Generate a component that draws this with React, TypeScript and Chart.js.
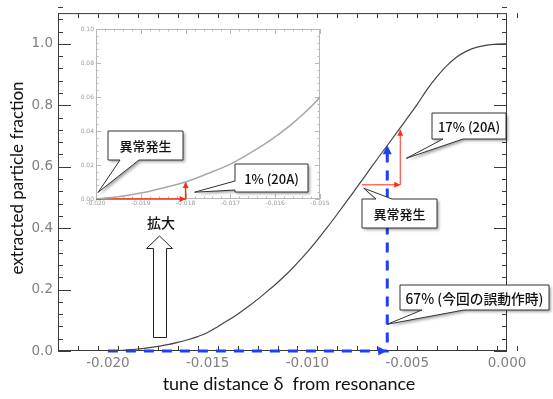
import React, { useEffect, useRef } from "react";
import { Chart, registerables } from "chart.js";
Chart.register(...registerables);

// ---- data ----
const deltaValues = [
  -0.02, -0.0195, -0.019, -0.0185, -0.018, -0.0175, -0.017, -0.0165, -0.016, -0.0155,
  -0.015, -0.0145, -0.014, -0.0135, -0.013, -0.0125, -0.012, -0.0115, -0.011, -0.0105,
  -0.01, -0.0095, -0.009, -0.0085, -0.008, -0.0075, -0.007, -0.0065, -0.006, -0.0055,
  -0.005, -0.0045, -0.004, -0.0035, -0.003, -0.0025, -0.002, -0.0015, -0.001, -0.0005, 0,
];
const fractionValues = [
  0, 0.0013, 0.0035, 0.0065, 0.01, 0.015, 0.0205, 0.028, 0.0366, 0.047,
  0.06, 0.079, 0.099, 0.12, 0.143, 0.168, 0.195, 0.223, 0.253, 0.287,
  0.323, 0.362, 0.403, 0.446, 0.49, 0.535, 0.58, 0.625, 0.669, 0.713,
  0.758, 0.803, 0.852, 0.894, 0.93, 0.958, 0.977, 0.989, 0.996, 0.999, 1.0,
];
const xTickValues = [-0.02, -0.015, -0.01, -0.005, 0];
const yTickValues = [0, 0.2, 0.4, 0.6, 0.8, 1.0];
const insetXTickValues = [-0.02, -0.019, -0.018, -0.017, -0.016, -0.015];
const insetYTickValues = [0, 0.02, 0.04, 0.06, 0.08, 0.1];

const blueArrowX = [-0.02, -0.006, -0.006];
const blueArrowY = [0, 0, 0.67];
const redArrowX = [-0.00727, -0.00535, -0.00535];
const redArrowY = [0.541, 0.541, 0.72];
const insetRedX = [-0.02, -0.018, -0.018];
const insetRedY = [0, 0, 0.01];

const xTitle = "tune distance δ  from resonance";
const yTitle = "extracted particle fraction";
const calloutAnomaly = "異常発生";
const callout17 = "17% (20A)";
const callout67 = "67% (今回の誤動作時)";
const callout1 = "1% (20A)";
const zoomLabel = "拡大";

const pts = (xs: number[], ys: number[]) => xs.map((x, i) => ({ x, y: ys[i] }));

function arrowHead(ctx: CanvasRenderingContext2D, x: number, y: number, dir: "right" | "up", len: number, hw: number, color: string) {
  ctx.save();
  ctx.fillStyle = color;
  ctx.beginPath();
  if (dir === "right") {
    ctx.moveTo(x, y);
    ctx.lineTo(x - len, y - hw);
    ctx.lineTo(x - len, y + hw);
  } else {
    ctx.moveTo(x, y);
    ctx.lineTo(x - hw, y + len);
    ctx.lineTo(x + hw, y + len);
  }
  ctx.closePath();
  ctx.fill();
  ctx.restore();
}

function callout(
  ctx: CanvasRenderingContext2D,
  bx: number, by: number, bw: number, bh: number,
  edge: "top" | "bottom" | "left",
  b1: number, b2: number,
  tx: number, ty: number,
  text: string, font: string, maxW?: number
) {
  const r = bx + bw, b = by + bh;
  ctx.save();
  ctx.beginPath();
  if (edge === "top") {
    ctx.moveTo(bx, by); ctx.lineTo(b1, by); ctx.lineTo(tx, ty); ctx.lineTo(b2, by);
    ctx.lineTo(r, by); ctx.lineTo(r, b); ctx.lineTo(bx, b);
  } else if (edge === "bottom") {
    ctx.moveTo(bx, by); ctx.lineTo(r, by); ctx.lineTo(r, b); ctx.lineTo(b2, b);
    ctx.lineTo(tx, ty); ctx.lineTo(b1, b); ctx.lineTo(bx, b);
  } else {
    ctx.moveTo(bx, by); ctx.lineTo(r, by); ctx.lineTo(r, b); ctx.lineTo(bx, b);
    ctx.lineTo(bx, b2); ctx.lineTo(tx, ty); ctx.lineTo(bx, b1);
  }
  ctx.closePath();
  ctx.shadowColor = "rgba(0,0,0,0.35)";
  ctx.shadowBlur = 3;
  ctx.shadowOffsetX = 2;
  ctx.shadowOffsetY = 2;
  ctx.fillStyle = "#ffffff";
  ctx.fill();
  ctx.shadowColor = "transparent";
  ctx.strokeStyle = "#333";
  ctx.lineWidth = 1;
  ctx.stroke();
  ctx.fillStyle = "#111";
  ctx.font = font;
  ctx.textAlign = "center";
  ctx.textBaseline = "middle";
  if (maxW) ctx.fillText(text, bx + bw / 2, by + bh / 2 + 1, maxW);
  else ctx.fillText(text, bx + bw / 2, by + bh / 2 + 1);
  ctx.restore();
}

function drawFrameTicks(chart: any, color: string, lw: number, xMinor: number, yMinor: number, xMajorLen: number, xMinorLen: number, yMajorLen: number, yMinorLen: number, xMajors: number[], yMajors: number[]) {
  const ctx: CanvasRenderingContext2D = chart.ctx;
  const { left, right, top, bottom } = chart.chartArea;
  const xs = chart.scales.x, ys = chart.scales.y;
  ctx.save();
  ctx.strokeStyle = color;
  ctx.lineWidth = lw;
  ctx.strokeRect(left + 0.5, top + 0.5, right - left - 1, bottom - top - 1);
  ctx.beginPath();
  const nX = Math.round((xs.max - xs.min) / xMinor);
  for (let i = 0; i <= nX; i++) {
    const v = xs.min + i * xMinor;
    const isMajor = xMajors.some((m) => Math.abs(m - v) < xMinor / 10);
    const L = isMajor ? xMajorLen : xMinorLen;
    const px = Math.round(xs.getPixelForValue(v)) + 0.5;
    ctx.moveTo(px, bottom); ctx.lineTo(px, bottom - L);
    ctx.moveTo(px, top); ctx.lineTo(px, top + L);
  }
  const nY = Math.round((ys.max - ys.min) / yMinor);
  for (let i = 0; i <= nY; i++) {
    const v = ys.min + i * yMinor;
    const isMajor = yMajors.some((m) => Math.abs(m - v) < yMinor / 10);
    const L = isMajor ? yMajorLen : yMinorLen;
    const py = Math.round(ys.getPixelForValue(v)) + 0.5;
    ctx.moveTo(left, py); ctx.lineTo(left + L, py);
    ctx.moveTo(right, py); ctx.lineTo(right - L, py);
  }
  ctx.stroke();
  ctx.restore();
}

const mainPlugin = {
  id: "mainDecor",
  beforeDatasetsDraw(chart: any) {
    drawFrameTicks(chart, "#3a3a3a", 1, 0.001, 0.04, 13, 5, 13, 5, xTickValues, yTickValues);
  },
  afterDatasetsDraw(chart: any) {
    const ctx: CanvasRenderingContext2D = chart.ctx;
    const xs = chart.scales.x, ys = chart.scales.y;
    const X = (v: number) => xs.getPixelForValue(v);
    const Y = (v: number) => ys.getPixelForValue(v);
    const blue = "#1f3dff";
    const red = "#ff2a1a";
    arrowHead(ctx, X(blueArrowX[1]) - 1, Y(blueArrowY[1]), "right", 8, 4.5, blue);
    arrowHead(ctx, X(blueArrowX[2]), Y(blueArrowY[2]), "up", 9, 4.5, blue);
    arrowHead(ctx, X(redArrowX[1]), Y(redArrowY[1]), "right", 6, 3, red);
    arrowHead(ctx, X(redArrowX[2]), Y(redArrowY[2]), "up", 6, 3, red);

    // callouts in the main plot
    callout(ctx, 432, 113, 74, 26, "bottom", 443, 463, X(-0.00505), Y(0.627), callout17, "500 13px 'Noto Sans CJK JP'");
    callout(ctx, 362, 199, 75, 29, "top", 376, 392, X(-0.00718), Y(0.53), calloutAnomaly, "500 13px 'Noto Sans CJK JP'");
    callout(ctx, 400, 285, 149, 25, "bottom", 422, 464, X(-0.006), Y(0.087), callout67, "500 14px 'Noto Sans CJK JP'", 138);

    // zoom label and hollow arrow
    ctx.save();
    ctx.fillStyle = "#111";
    ctx.font = "500 14px 'Noto Sans CJK JP'";
    ctx.textAlign = "center";
    ctx.textBaseline = "middle";
    ctx.fillText(zoomLabel, 161, 223);
    ctx.beginPath();
    ctx.moveTo(153.5, 337.5); ctx.lineTo(166.5, 337.5); ctx.lineTo(166.5, 248.5);
    ctx.lineTo(172.5, 248.5); ctx.lineTo(159.5, 236); ctx.lineTo(146.5, 248.5); ctx.lineTo(153.5, 248.5);
    ctx.closePath();
    ctx.fillStyle = "#fff";
    ctx.fill();
    ctx.strokeStyle = "#222";
    ctx.lineWidth = 1;
    ctx.stroke();
    ctx.restore();

    // axis titles
    ctx.save();
    ctx.fillStyle = "#111";
    ctx.textAlign = "center";
    ctx.textBaseline = "middle";
    ctx.font = "18px Lato";
    ctx.fillText(xTitle, 289, 384);
    ctx.font = "17px Lato";
    ctx.translate(18, 178);
    ctx.rotate(-Math.PI / 2);
    ctx.fillText(yTitle, 0, 0);
    ctx.restore();
  },
};

const insetPlugin = {
  id: "insetDecor",
  beforeDatasetsDraw(chart: any) {
    const ctx: CanvasRenderingContext2D = chart.ctx;
    const { left, right, top, bottom } = chart.chartArea;
    ctx.save();
    ctx.fillStyle = "#fff";
    ctx.fillRect(left, top, right - left, bottom - top);
    ctx.restore();
    drawFrameTicks(chart, "#b8b8b8", 1, 0.0002, 0.004, 5, 2.5, 5, 2.5, insetXTickValues, insetYTickValues);
  },
  afterDatasetsDraw(chart: any) {
    const ctx: CanvasRenderingContext2D = chart.ctx;
    const xs = chart.scales.x, ys = chart.scales.y;
    const X = (v: number) => xs.getPixelForValue(v);
    const Y = (v: number) => ys.getPixelForValue(v);
    const red = "#ff2a1a";
    arrowHead(ctx, X(insetRedX[1]), Y(insetRedY[1]), "right", 6, 3, red);
    arrowHead(ctx, X(insetRedX[2]), Y(insetRedY[2]), "up", 6, 3, red);
    callout(ctx, 108, 131, 75, 29, "bottom", 120, 139, X(-0.01995), Y(0.004), calloutAnomaly, "500 13px 'Noto Sans CJK JP'");
    callout(ctx, 235, 164, 73, 28, "left", 181, 190, X(-0.0178), Y(0.004), callout1, "500 13px 'Noto Sans CJK JP'");
  },
};

export default function App() {
  const mainRef = useRef<HTMLCanvasElement>(null);
  const insetRef = useRef<HTMLCanvasElement>(null);

  useEffect(() => {
    const main = new Chart(mainRef.current!, {
      type: "line",
      data: {
        datasets: [
          {
            data: pts(deltaValues, fractionValues),
            borderColor: "#444",
            borderWidth: 1.2,
            pointRadius: 0,
            cubicInterpolationMode: "monotone",
            fill: false,
          },
          {
            data: pts(blueArrowX, blueArrowY),
            borderColor: "#1f3dff",
            borderWidth: 3,
            borderDash: [10, 8],
            pointRadius: 0,
            tension: 0,
            clip: false,
            fill: false,
          },
          {
            data: pts(redArrowX, redArrowY),
            borderColor: "#ff2a1a",
            borderWidth: 1,
            pointRadius: 0,
            tension: 0,
            fill: false,
          },
        ],
      } as any,
      options: {
        responsive: false,
        animation: false,
        devicePixelRatio: 1,
        events: [],
        layout: { padding: { left: 0, top: 10, right: 46, bottom: 0 } },
        plugins: { legend: { display: false }, tooltip: { enabled: false }, title: { display: false } },
        scales: {
          x: {
            type: "linear",
            min: -0.0225,
            max: 0,
            grid: { display: false, drawTicks: false },
            border: { display: false },
            afterBuildTicks: (s: any) => { s.ticks = xTickValues.map((v) => ({ value: v })); },
            afterFit: (s: any) => { s.height = 48; },
            ticks: {
              padding: 4,
              color: "#808080",
              font: { family: "DejaVu Sans", size: 13.5 },
              maxRotation: 0,
              autoSkip: false,
              callback: (v: any) => Number(v).toFixed(3),
            },
          },
          y: {
            type: "linear",
            min: 0,
            max: 1.1,
            grid: { display: false, drawTicks: false },
            border: { display: false },
            afterBuildTicks: (s: any) => { s.ticks = yTickValues.map((v) => ({ value: v })); },
            afterFit: (s: any) => { s.width = 58; },
            ticks: {
              padding: 5,
              color: "#808080",
              font: { family: "DejaVu Sans", size: 13.5 },
              autoSkip: false,
              callback: (v: any) => Number(v).toFixed(1),
            },
          },
        },
      } as any,
      plugins: [mainPlugin],
    });

    const inset = new Chart(insetRef.current!, {
      type: "line",
      data: {
        datasets: [
          {
            data: pts(deltaValues, fractionValues),
            borderColor: "#a8a8a8",
            borderWidth: 1.5,
            pointRadius: 0,
            cubicInterpolationMode: "monotone",
            fill: false,
          },
          {
            data: pts(insetRedX, insetRedY),
            borderColor: "#ff2a1a",
            borderWidth: 1.5,
            pointRadius: 0,
            tension: 0,
            clip: false,
            fill: false,
          },
        ],
      } as any,
      options: {
        responsive: false,
        animation: false,
        devicePixelRatio: 1,
        events: [],
        layout: { padding: { left: 78, top: 29, right: 233, bottom: 187 } },
        plugins: { legend: { display: false }, tooltip: { enabled: false }, title: { display: false } },
        scales: {
          x: {
            type: "linear",
            min: -0.02,
            max: -0.015,
            grid: { display: false, drawTicks: false },
            border: { display: false },
            afterBuildTicks: (s: any) => { s.ticks = insetXTickValues.map((v) => ({ value: v })); },
            afterFit: (s: any) => { s.height = 13; },
            ticks: {
              padding: 1,
              color: "#9a9a9a",
              font: { family: "DejaVu Sans", size: 6 },
              maxRotation: 0,
              autoSkip: false,
              callback: (v: any) => Number(v).toFixed(3),
            },
          },
          y: {
            type: "linear",
            min: 0,
            max: 0.1,
            grid: { display: false, drawTicks: false },
            border: { display: false },
            afterBuildTicks: (s: any) => { s.ticks = insetYTickValues.map((v) => ({ value: v })); },
            afterFit: (s: any) => { s.width = 18; },
            ticks: {
              padding: 2,
              color: "#9a9a9a",
              font: { family: "DejaVu Sans", size: 6 },
              autoSkip: false,
              callback: (v: any) => Number(v).toFixed(2),
            },
          },
        },
      } as any,
      plugins: [insetPlugin],
    });

    return () => {
      main.destroy();
      inset.destroy();
    };
  }, []);

  return (
    <div style={{ position: "absolute", left: 0, top: 0, width: 553, height: 399, background: "#fff" }}>
      <canvas ref={mainRef} width={553} height={399} style={{ position: "absolute", left: 0, top: 0 }} />
      <canvas ref={insetRef} width={553} height={399} style={{ position: "absolute", left: 0, top: 0 }} />
    </div>
  );
}
